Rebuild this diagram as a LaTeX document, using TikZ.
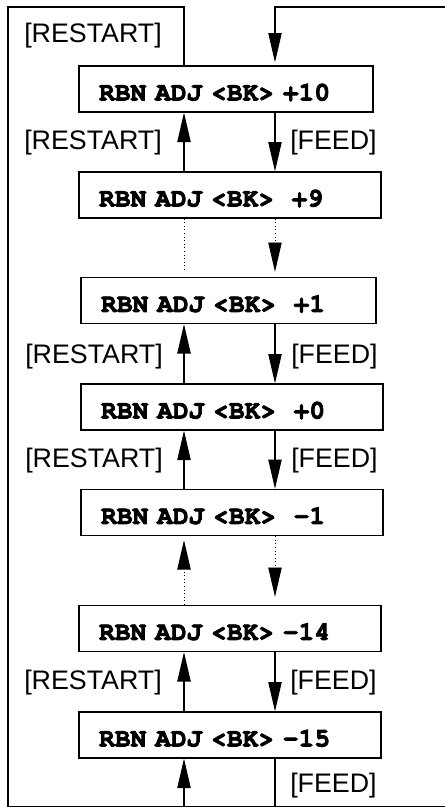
\documentclass[tikz,border=0pt]{standalone}
\usepackage{fontspec}
\setmainfont{Liberation Sans}
\setmonofont{TeX Gyre Cursor}[BoldFeatures={FakeBold=3}]
\usetikzlibrary{arrows.meta}
\newcommand\boxfont{\fontsize{19.7}{20}\selectfont\ttfamily\bfseries
  \spaceskip=0.6em plus 0pt minus 0pt\relax\xspaceskip=0.6em plus 0pt minus 0pt\relax}
\begin{document}
\begin{tikzpicture}[x=0.75pt,y=-0.75pt,
  box/.style={draw,line width=1pt,minimum height=34.5pt,inner xsep=15pt,inner ysep=0pt,
    align=left,text height=17.2pt,text depth=0pt,font=\boxfont},
  lbl/.style={anchor=west,inner sep=0pt,font=\fontsize{20.1}{21}\selectfont},
  conn/.style={line width=0.8pt},
  tip/.style={-{Triangle[length=22pt,width=10pt]}},
  arr/.style={conn,tip},
  dot/.style={line width=0.7pt,dotted}]
\useasboundingbox (0,0) rectangle (445,807);

% boxes
\node[box,text width=190.5pt] (b10) at (226,89)    {RBN ADJ <BK> +10};
\node[box,text width=196.5pt] (b9)  at (230,195)   {RBN ADJ <BK>~~+9};
\node[box,text width=191.25pt] (b1) at (228.5,300.5) {RBN ADJ <BK>~~+1};
\node[box,text width=196.5pt] (b0)  at (232,407)   {RBN ADJ <BK>~~+0};
\node[box,text width=196.5pt] (bm1) at (232,512.5) {RBN ADJ <BK>~~-1};
\node[box,text width=196.5pt] (bm14) at (230,628.5) {RBN ADJ <BK> -14};
\node[box,text width=196.5pt] (bm15) at (230,735)  {RBN ADJ <BK> -15};

% helper coordinates
\coordinate (lx) at (184,0);
\coordinate (rx) at (275,0);
\coordinate (tl) at (8,7);
\coordinate (tr) at (446,7);
\coordinate (bl) at (8,806.5);
\coordinate (br) at (446,806.5);

% labels
\node[lbl] (r0) at (24,35.5) {[RESTART]};
\node[lbl] (r1) at (24,143) {[RESTART]};
\node[lbl] (f1) at (290,143) {[FEED]};
\node[lbl] (r2) at (25,356.5) {[RESTART]};
\node[lbl] (f2) at (291,356.5) {[FEED]};
\node[lbl] (r3) at (25,461) {[RESTART]};
\node[lbl] (f3) at (291,461) {[FEED]};
\node[lbl] (r4) at (24,683) {[RESTART]};
\node[lbl] (f4) at (290,683) {[FEED]};
\node[lbl] (f5) at (290,786) {[FEED]};

% outer loops
\draw[conn] (bl) -- (br);
\draw[arr] (b10.north -| lx) |- (tl) -- (bl) -| (bm15.south -| lx);
\draw[arr,shorten >=2.25pt] (bm15.south -| rx) |- (br) -- (tr) -| (b10.north -| rx);

% +10 / +9
\draw[arr] (b9.north -| lx) -- (b10.south -| lx);
\draw[arr] (b10.south -| rx) -- (b9.north -| rx);
% +9 ... +1
\draw[dot,shorten >=4pt] (b9.south -| lx) -- (b1.north -| lx);
\draw[dot,tip,shorten >=3.75pt] (b9.south -| rx) -- (b1.north -| rx);
% +1 / +0
\draw[arr] (b0.north -| lx) -- (b1.south -| lx);
\draw[arr] (b1.south -| rx) -- (b0.north -| rx);
% +0 / -1
\draw[arr] (bm1.north -| lx) -- (b0.south -| lx);
\draw[arr] (b0.south -| rx) -- (bm1.north -| rx);
% -1 ... -14
\draw[dot,tip,shorten >=3pt] (bm14.north -| lx) -- (bm1.south -| lx);
\draw[dot,tip,shorten >=6pt] (bm1.south -| rx) -- (bm14.north -| rx);
% -14 / -15
\draw[arr] (bm15.north -| lx) -- (bm14.south -| lx);
\draw[arr] (bm14.south -| rx) -- (bm15.north -| rx);
\end{tikzpicture}
\end{document}
